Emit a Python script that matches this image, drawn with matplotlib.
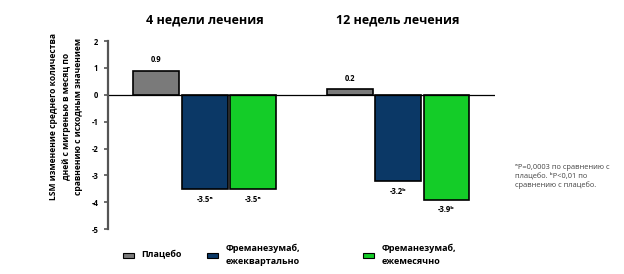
import numpy as np
import matplotlib
matplotlib.use('Agg')
import matplotlib.pyplot as plt

plt.rcParams['font.family'] = ['Open Sans', 'DejaVu Sans']

groups = ['4 недели лечения', '12 недель лечения']
series = ['Плацебо', 'Фреманезумаб,\nежеквартально', 'Фреманезумаб,\nежемесячно']
colors = ['#7a7a7a', '#0b3866', '#14cc28']
values = [[0.9, -3.5, -3.5],
          [0.2, -3.2, -3.9]]
labels = [['0.9', '-3.5ᵃ', '-3.5ᵃ'],
          ['0.2', '-3.2ᵇ', '-3.9ᵇ']]
yticks = [2, 1, 0, -1, -2, -3, -4, -5]

fig = plt.figure(figsize=(6.24, 2.74), dpi=100)
ax = fig.add_axes([0.173, 0.164, 0.62, 0.686])

for g in range(len(groups)):
    for s in range(len(series)):
        x = g * 4 + s
        v = values[g][s]
        ax.bar(x, v, width=0.95, color=colors[s], edgecolor='black', linewidth=1.2)
        if v >= 0:
            ax.text(x, v + 0.25, labels[g][s], ha='center', va='bottom',
                    fontsize=5.5, fontweight='bold')
        else:
            ax.text(x, v - 0.22, labels[g][s], ha='center', va='top',
                    fontsize=5.5, fontweight='bold')
    ax.text(g * 4 + 1, 2.55, groups[g], ha='center', va='bottom',
            fontsize=9, fontweight='bold', clip_on=False)

ax.axhline(0, color='black', lw=0.9)
ax.set_xlim(-1, 7)
ax.set_ylim(-5, 2)
ax.set_yticks(yticks)
ax.set_yticklabels([str(t) for t in yticks], fontsize=5.5, fontweight='bold')
ax.set_xticks([])
for sp in ['top', 'right', 'bottom']:
    ax.spines[sp].set_visible(False)
ax.spines['left'].set_linewidth(1.6)
ax.spines['left'].set_color('#555555')
ax.tick_params(axis='y', length=3, width=1.2, color='#555555', pad=4)

fig.text(0.106, 0.575,
         'LSM изменение среднего количества\nдней с мигренью в месяц по\nсравнению с исходным значением',
         rotation=90, ha='center', va='center', fontsize=6.1, fontweight='bold',
         linespacing=1.45)

fig.text(0.826, 0.355,
         'ᵃP=0,0003 по сравнению с\nплацебо. ᵇP<0,01 по\nсравнению с плацебо.',
         ha='left', va='center', fontsize=5.4, color='#444444', linespacing=1.3)

leg_x = [0.197, 0.332, 0.582]
for i in range(len(series)):
    fig.patches.append(plt.Rectangle(
        (leg_x[i], 0.058), 0.018, 0.02, transform=fig.transFigure,
        facecolor=colors[i], edgecolor='black', lw=0.8, figure=fig))
    fig.text(leg_x[i] + 0.029, 0.07, series[i], ha='left', va='center',
             fontsize=6.5, fontweight='bold', linespacing=1.5)

fig.savefig('out.png', dpi=100)
